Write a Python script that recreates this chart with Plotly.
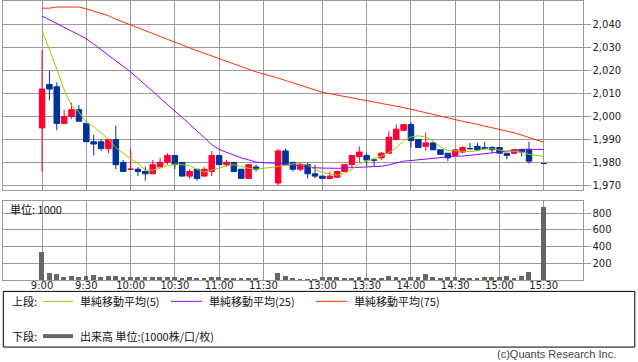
import numpy as np
import pandas as pd
import plotly.graph_objects as go

# ---------------- data ----------------
def session(start, end):
    out = []
    for t in range(start, end + 1, 5):
        out.append(f"{t // 60}:{t % 60:02d}")
    return out

morning = session(9 * 60, 11 * 60 + 30)
afternoon = session(12 * 60 + 30, 15 * 60 + 30)
categories = morning + [" "] + afternoon
no_trade = ["11:30", "15:25"]
times = [t for t in morning + afternoon if t not in no_trade]

open_ = [1995, 2014, 2013, 1997, 2000, 2003, 1997, 1989, 1989, 1986,
         1990, 1980, 1977, 1977, 1976, 1975, 1978, 1980, 1983, 1980,
         1974, 1977, 1974, 1976, 1983, 1979, 1980, 1977, 1973, 1978,
         1971, 1985, 1980, 1977, 1979, 1975, 1974, 1973, 1973.5, 1976,
         1979, 1982.5, 1983, 1981, 1982, 1984, 1990, 1994, 1996.5, 1990,
         1987, 1988.5, 1985.5, 1984, 1983, 1984.5, 1986, 1987, 1986.5, 1986.5,
         1986.5, 1984, 1984, 1985.5, 1985.5, 1979.5]
high = [2029, 2020, 2015, 2003, 2006, 2005, 1997, 1992, 1990, 1990,
        1996, 1981, 1986, 1978, 1978, 1981, 1982, 1984, 1983, 1980,
        1977, 1977, 1978, 1985, 1983, 1981, 1980, 1977, 1979, 1979,
        1986, 1986, 1980, 1980, 1980, 1979, 1974, 1976, 1976.5, 1979,
        1983, 1987, 1984, 1981, 1984.5, 1993.5, 1996.5, 1996.5, 1997.5, 1990,
        1993, 1989, 1985.5, 1984, 1985.5, 1987, 1988.5, 1988.5, 1989, 1987,
        1986.5, 1984, 1985.5, 1986, 1989, 1979.5]
low = [1976, 2007, 1994, 1997, 1999, 1998, 1989, 1983, 1985, 1984,
       1977, 1976, 1977, 1974, 1972, 1975, 1978, 1979, 1977, 1974,
       1973, 1972, 1974, 1974, 1979, 1978, 1976, 1973, 1973, 1976,
       1970, 1979, 1976, 1976, 1973, 1973, 1973, 1973, 1973.5, 1976,
       1978, 1980, 1978.5, 1978.5, 1981, 1984, 1990, 1993.5, 1986.5, 1986.5,
       1985, 1985.5, 1983.5, 1980.5, 1983, 1984, 1985.5, 1985, 1985.5, 1984,
       1984, 1981.5, 1983.5, 1982.5, 1979.5, 1979.5]
close = [2012, 2012, 1997, 2000, 2003, 1998, 1989, 1988, 1986, 1990,
         1979, 1976, 1977, 1976, 1975, 1979, 1980, 1983, 1979, 1974,
         1976, 1973, 1977, 1983, 1979, 1980, 1976, 1973, 1979, 1977,
         1985, 1979, 1977, 1979, 1975, 1974, 1973, 1974, 1976, 1979,
         1983, 1984.5, 1981, 1981, 1984, 1991, 1994.5, 1996.5, 1989.5, 1986.5,
         1988.5, 1985.5, 1983.5, 1982, 1985.5, 1986.5, 1986, 1985.5, 1986, 1985.5,
         1984, 1983, 1985.5, 1984.5, 1980.5, 1979.5]
volume = [345, 85, 73, 38, 50, 38, 50, 62, 38, 50,
          50, 38, 38, 38, 38, 38, 38, 38, 38, 26,
          38, 26, 26, 38, 38, 26, 26, 26, 26, 26,
          85, 50, 26, 22, 22, 22, 38, 38, 38, 26,
          26, 38, 26, 26, 26, 50, 38, 26, 38, 38,
          73, 38, 26, 38, 38, 26, 26, 26, 38, 38,
          38, 50, 26, 50, 97, 877]

# moving averages: values before the window fills come from earlier data
ma5_head = [2037.7, 2029.4, 2020.7, 2011.6]
ma25_head = [2043.9, 2042.3, 2040.6, 2039.0, 2037.3, 2035.7, 2034.0, 2031.6,
             2029.2, 2026.7, 2024.3, 2021.9, 2019.5, 2016.7, 2013.9, 2011.0,
             2008.2, 2005.4, 2002.6, 1999.6, 1996.7, 1993.7, 1990.7, 1987.8]
ma75 = [2047.3, 2047.3, 2047.8, 2047.8, 2047.8, 2047.8, 2047.0, 2046.0, 2045.0, 2044.0,
        2042.5, 2041.3, 2040.0, 2038.7, 2037.5, 2036.3, 2035.0, 2033.7, 2032.4, 2031.2,
        2030.0, 2028.8, 2027.6, 2026.4, 2025.2, 2024.1, 2022.9, 2021.8, 2020.7, 2019.5,
        2016.8, 2015.7, 2014.7, 2013.6, 2012.6, 2011.6, 2010.6, 2010.0, 2009.5, 2008.9,
        2008.4, 2007.8, 2007.2, 2006.5, 2005.9, 2005.2, 2004.5, 2003.9, 2003.2, 2002.4,
        2001.7, 2000.9, 2000.1, 1999.4, 1998.6, 1997.9, 1997.3, 1996.6, 1995.9, 1995.3,
        1994.6, 1993.8, 1992.9, 1991.9, 1990.8, 1988.8]

price_ticks = list(range(1970, 2041, 10))
vol_ticks = [200, 400, 600, 800]
time_ticks = ["9:00", "9:30", "10:00", "10:30", "11:00", "11:30",
              "13:00", "13:30", "14:00", "14:30", "15:00", "15:30"]

cs = pd.Series(close, dtype=float)
ma5 = cs.rolling(5).mean().to_numpy()
ma5[:4] = ma5_head
ma25 = cs.rolling(25).mean().to_numpy()
ma25[:24] = ma25_head

# ---------------- figure ----------------
W, H = 638, 362
RED, BLUE = "#ff0033", "#003399"
GRID = "#9a9a9a"
FONT = "DejaVu Sans"
JFONT = "Noto Sans CJK JP"

fig = go.Figure()
fig.add_trace(go.Candlestick(
    x=times, open=open_, high=high, low=low, close=close,
    increasing=dict(line=dict(color=RED, width=1), fillcolor=RED),
    decreasing=dict(line=dict(color=BLUE, width=1), fillcolor=BLUE),
    whiskerwidth=0, xaxis="x", yaxis="y", showlegend=False, hoverinfo="skip"))
fig.add_trace(go.Scatter(x=times, y=ma75, mode="lines", line=dict(color="#ff3300", width=1),
                         xaxis="x", yaxis="y", showlegend=False))
fig.add_trace(go.Scatter(x=times, y=ma25, mode="lines", line=dict(color="#9900ff", width=1),
                         xaxis="x", yaxis="y", showlegend=False))
fig.add_trace(go.Scatter(x=times, y=ma5, mode="lines", line=dict(color="#99cc00", width=1),
                         xaxis="x", yaxis="y", showlegend=False))
fig.add_trace(go.Bar(x=times, y=volume, width=0.65, marker=dict(color="#666666", line=dict(width=0)),
                     xaxis="x2", yaxis="y2", showlegend=False))

xdom = [3.3 / W, 582.5 / W]
xcommon = dict(type="category", categoryorder="array", categoryarray=categories,
               range=[-5.25, 73.25], tickmode="array", tickvals=time_ticks, ticktext=time_ticks,
               showgrid=True, gridcolor=GRID, gridwidth=1, showline=True, linecolor=GRID,
               linewidth=1, mirror=True, ticks="", zeroline=False, fixedrange=True)
ycommon = dict(side="right", showgrid=True, gridcolor=GRID, gridwidth=1, showline=True,
               linecolor=GRID, linewidth=1, mirror=True, ticks="outside", ticklen=7,
               tickcolor=GRID, zeroline=False, fixedrange=True,
               tickfont=dict(family=FONT, size=10, color="#222"))

fig.update_layout(
    width=W, height=H, margin=dict(l=0, r=0, t=0, b=0),
    paper_bgcolor="white", plot_bgcolor="white", showlegend=False,
    boxgap=0.25, boxgroupgap=0, bargap=0,
    xaxis=dict(domain=xdom, anchor="y", showticklabels=False, rangeslider=dict(visible=False),
               **xcommon),
    yaxis=dict(domain=[1 - 190 / H, 1 - 0.5 / H], range=[1967.96, 2050.22],
               tickvals=price_ticks, tickformat=",d", anchor="x", **ycommon),
    xaxis2=dict(domain=xdom, anchor="y2", showticklabels=True, ticklabelstandoff=-4,
                tickfont=dict(family=FONT, size=10, color="#222"), **xcommon),
    yaxis2=dict(domain=[1 - 281 / H, 1 - 201 / H], range=[0, 945],
                tickvals=vol_ticks, anchor="x2", **ycommon),
)

def px(xp):
    return xp / W

def py(yp):
    return 1 - yp / H

shapes = [
    dict(type="rect", xref="paper", yref="paper", x0=px(3.3), x1=px(634.8), y0=py(348), y1=py(292),
         line=dict(color="#000", width=1)),
    dict(type="line", xref="paper", yref="paper", x0=px(43), x1=px(73), y0=py(302), y1=py(302),
         line=dict(color="#99cc00", width=1)),
    dict(type="line", xref="paper", yref="paper", x0=px(171), x1=px(202), y0=py(302), y1=py(302),
         line=dict(color="#9900ff", width=1)),
    dict(type="line", xref="paper", yref="paper", x0=px(316), x1=px(347), y0=py(302), y1=py(302),
         line=dict(color="#ff3300", width=1)),
    dict(type="line", xref="paper", yref="paper", x0=px(43), x1=px(73), y0=py(337), y1=py(337),
         line=dict(color="#666666", width=4)),
]
fig.update_layout(shapes=shapes)

def ann(text, x, y, size=11, family=JFONT, color="#111", xanchor="left"):
    fig.add_annotation(text=text, xref="paper", yref="paper", x=px(x), y=py(y),
                       xanchor=xanchor, yanchor="middle", showarrow=False,
                       font=dict(family=family, size=size, color=color))

ann("単位: 1000", 8, 209)
ann("上段:", 10, 302)
ann("単純移動平均(5)", 77.5, 302)
ann("単純移動平均(25)", 207, 302)
ann("単純移動平均(75)", 352, 302)
ann("下段:", 10, 337)
ann("出来高 単位:(1000株/口/枚)", 77.5, 337)
ann("(c)Quants Research Inc.", 618, 355, size=11, family="Liberation Sans", color="#444",
    xanchor="right")

fig.write_html("out.html", config={"displayModeBar": False},
               post_script="document.body.style.margin='0';")
